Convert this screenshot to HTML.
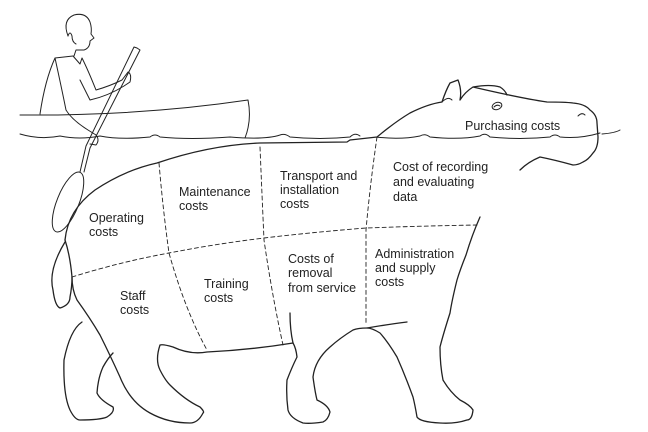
<!DOCTYPE html>
<html><head><meta charset="utf-8"><style>
html,body{margin:0;padding:0;background:#fff;width:648px;height:432px;overflow:hidden}
svg{display:block}
text{font-family:"Liberation Sans",sans-serif;font-size:12.5px;fill:#222;stroke:none}
</style></head><body>
<svg width="648" height="432" viewBox="0 0 648 432" fill="none" stroke="#222" stroke-linecap="round" stroke-linejoin="round">
<!-- boat -->
<path d="M20 115 Q140 116 248 100 Q252 120 245 138" stroke-width="1"/>
<!-- water -->
<path d="M20 134 Q40 140 60 136 Q80 140 100 136 Q120 140 150 137 Q155 133 160 137 Q190 140 230 137 Q265 140 280 135 Q285 133 290 137 Q320 140 350 137 Q355 132 360 136 M376 137 Q400 140 420 136 Q425 133 430 137 Q460 140 480 136 Q485 132 490 137 Q520 140 550 137 Q555 133 560 137 Q580 139 600 133 M602 134 Q615 133 620 130" stroke-width="1"/>
<!-- man -->
<path d="M68 36 Q62 20 74 15 Q86 12 90 22 Q92 28 91 34 L94 38 L90 41 Q90 48 84 50 L76 50 L74 56" stroke-width="1"/>
<path d="M68 36 Q70 30 72 36 Q72 42 76 44" stroke-width="1"/>
<path d="M73 56 L80 64 L82 58 Q88 70 96 90 Q110 86 122 80 L128 72 Q132 74 130 82 L124 86 Q108 96 90 100 L80 80" stroke-width="1"/>
<path d="M55 58 L73 56 M55 58 Q45 80 40 114 M55 58 Q62 90 66 110 Q72 120 88 130 L96 135 Q100 140 96 145 L90 144" stroke-width="1"/>
<!-- paddle -->
<path d="M137 48 L140 50 L90 148 L84 172 M137 48 L134 47 L86 146 L80 172" stroke-width="1"/>
<ellipse cx="68" cy="202" rx="11" ry="32" transform="rotate(22 68 202)" stroke-width="1"/>
<!-- hippo back + head -->
<path d="M65 240 Q68 210 95 190 Q125 170 157 163 Q210 145 260 143 L347 142 L350 140 L377 137 Q395 122 410 113 Q428 104 442 102 Q446 90 450 83 L458 80 Q462 90 460 100 Q465 92 473 87 Q490 84 500 87 Q505 90 507 95 M473 87 Q520 98 547 102 Q565 102 573 103 Q585 104 590 110 Q597 115 597 123 L598 137 Q598 148 593 153 Q588 160 583 162 Q578 165 573 165 Q555 160 540 157 Q528 162 520 170" stroke-width="1.3"/>
<path d="M442 102 Q448 96 452 100" stroke-width="1"/>
<ellipse cx="497" cy="106" rx="5" ry="3.5" transform="rotate(-20 497 106)" stroke-width="1"/>
<path d="M494 107 Q497 104 500 106" stroke-width="1"/>
<path d="M578 116 Q582 112 585 115" stroke-width="1"/>
<!-- throat, front leg -->
<path d="M480 217 Q472 235 466 255 Q460 270 457 280 Q452 300 450 313 Q443 335 440 347 Q440 365 443 380 Q450 392 460 400 Q470 405 473 410 Q472 420 467 420 Q455 424 440 423 Q420 422 417 417 Q415 405 413 397 Q405 375 397 357 Q388 342 380 333 Q372 328 367 328 Q358 328 353 330 Q340 338 330 347 Q315 360 313 377 Q315 392 317 400 Q328 405 330 412 Q328 420 323 422 Q310 424 303 423 Q290 418 288 410 Q286 395 287 380 Q292 367 297 357 Q296 348 293 343" stroke-width="1.3"/>
<path d="M367 328 Q390 324 407 322" stroke-width="1.3"/>
<path d="M290 313 Q290 330 293 343" stroke-width="1.3"/>
<!-- belly, rear -->
<path d="M293 343 Q250 350 207 352 Q190 355 173 347 Q163 344 160 345 Q155 360 160 370 Q165 380 170 385 Q185 400 200 407 Q205 412 203 413 Q198 423 190 423 Q168 423 150 413 Q130 402 120 377 Q110 355 100 335 Q90 318 77 300 Q72 290 72 277 Q70 255 65 240" stroke-width="1.3"/>
<!-- tail -->
<path d="M65 242 Q48 270 53 290 Q55 306 60 308 Q70 305 70 297 Q72 287 72 277" stroke-width="1.3"/>
<!-- rear leg -->
<path d="M82 322 Q70 330 64 360 Q63 395 70 410 Q75 420 80 420 Q100 420 107 417 Q115 412 113 407 Q100 400 97 393 Q98 378 103 367 Q108 358 113 353" stroke-width="1.3"/>
<!-- dashed division lines -->
<g stroke-dasharray="4 3" stroke-width="0.9">
<path d="M159 163 Q163 210 169 253 Q185 310 207 350"/>
<path d="M260 147 Q262 195 264 240 Q272 295 283 345"/>
<path d="M377 137 Q370 185 366 230 L366 325"/>
<path d="M72 277 Q120 262 169 253 Q215 244 264 238 Q315 232 366 228 Q420 226 477 225"/>
</g>
<!-- labels -->
<text x="465" y="130">Purchasing costs</text>
<text x="393" y="171">Cost of recording</text>
<text x="393" y="186">and evaluating</text>
<text x="393" y="201">data</text>
<text x="280" y="180">Transport and</text>
<text x="280" y="194">installation</text>
<text x="280" y="208">costs</text>
<text x="179" y="196">Maintenance</text>
<text x="179" y="210">costs</text>
<text x="89" y="222">Operating</text>
<text x="89" y="236">costs</text>
<text x="375" y="258">Administration</text>
<text x="375" y="272">and supply</text>
<text x="375" y="286">costs</text>
<text x="288" y="263">Costs of</text>
<text x="288" y="277">removal</text>
<text x="288" y="292">from service</text>
<text x="204" y="288">Training</text>
<text x="204" y="302">costs</text>
<text x="120" y="300">Staff</text>
<text x="120" y="314">costs</text>
</svg>
</body></html>
